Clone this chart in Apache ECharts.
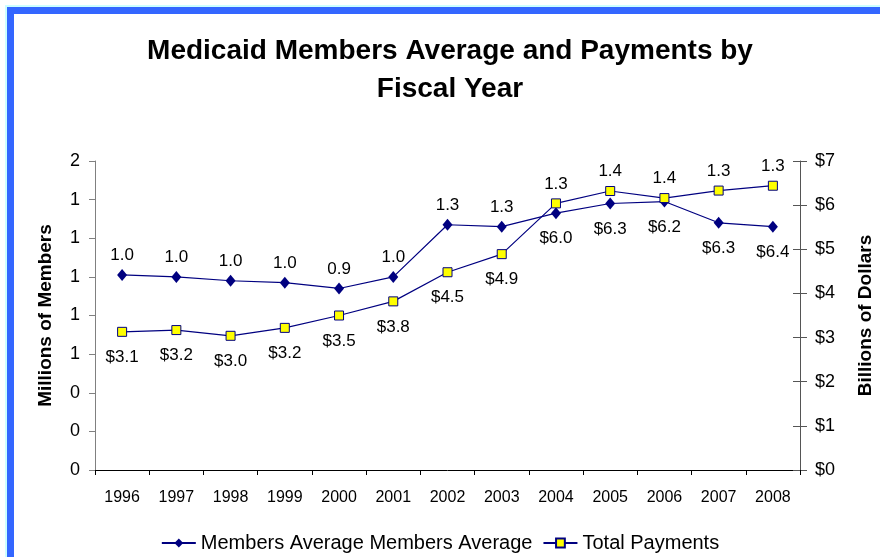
<!DOCTYPE html>
<html>
<head>
<meta charset="utf-8">
<title>Medicaid Members Average and Payments by Fiscal Year</title>
<script src="https://cdn.jsdelivr.net/npm/echarts@6/dist/echarts.min.js"></script>
<style>
  html, body { margin: 0; padding: 0; background: #ffffff; }
  #chart { width: 880px; height: 557px; }
</style>
</head>
<body>
<div id="chart"></div>
<script>
// Fiscal years on the category axis
const years = ['1996', '1997', '1998', '1999', '2000', '2001', '2002',
               '2003', '2004', '2005', '2006', '2007', '2008'];

// Average Medicaid members, millions (left axis)
const membersAvg = [1.01, 1.00, 0.98, 0.97, 0.94, 1.00, 1.27,
                    1.26, 1.33, 1.38, 1.39, 1.28, 1.26];

// Total payments, billions of dollars (right axis)
const totalPayments = [3.13, 3.17, 3.04, 3.22, 3.50, 3.82, 4.48,
                       4.89, 6.04, 6.32, 6.16, 6.33, 6.44];

// Axis scales
const membersAxis = { min: 0, max: 1.6, interval: 0.2 };
const dollarsAxis = { min: 0, max: 7, interval: 1 };

const FONT = '"Liberation Sans", Arial, Helvetica, sans-serif';
const NAVY = '#000080';

const chart = echarts.init(document.getElementById('chart'), null, { renderer: 'canvas' });

const baseOption = {
  backgroundColor: '#ffffff',
  animation: false,
  textStyle: { fontFamily: FONT, color: '#000' },
  graphic: [
    // slide frame: thin pale edge plus blue band along top and left
    { type: 'rect', shape: { x: 5, y: 5, width: 880, height: 2 }, style: { fill: '#ccffff' }, silent: true },
    { type: 'rect', shape: { x: 5, y: 5, width: 2, height: 560 }, style: { fill: '#ccffff' }, silent: true },
    { type: 'rect', shape: { x: 7, y: 7, width: 880, height: 7 }, style: { fill: '#3366ff' }, silent: true },
    { type: 'rect', shape: { x: 7, y: 7, width: 7, height: 560 }, style: { fill: '#3366ff' }, silent: true }
  ],
  title: {
    text: 'Medicaid Members Average and Payments by\nFiscal Year',
    left: 450,
    textAlign: 'center',
    top: 32,
    padding: 0,
    textStyle: {
      fontFamily: FONT,
      fontSize: 28,
      fontWeight: 'bold',
      color: '#000',
      lineHeight: 38,
      align: 'center'
    }
  },
  legend: {
    left: 'center',
    top: 528,
    itemWidth: 34,
    itemHeight: 11,
    itemGap: 10,
    textStyle: { fontFamily: FONT, fontSize: 20, color: '#000' },
    data: ['Members Average Members Average', 'Total Payments']
  },
  grid: {
    left: 95, right: 80, top: 161, bottom: 87,
    containLabel: false,
    outerBoundsMode: 'none'
  },
  xAxis: {
    type: 'category',
    data: years,
    boundaryGap: true,
    axisLine: { lineStyle: { color: '#000', width: 1 } },
    axisTick: { show: true, alignWithLabel: false, length: 5, lineStyle: { color: '#000' } },
    axisLabel: { fontFamily: FONT, fontSize: 16, color: '#000', margin: 20, interval: 0 },
    splitLine: { show: false }
  },
  yAxis: [
    {
      type: 'value',
      position: 'left',
      min: membersAxis.min, max: membersAxis.max, interval: membersAxis.interval,
      name: 'Millions of Members',
      nameLocation: 'middle',
      nameRotate: 90,
      nameGap: 40,
      nameTextStyle: { fontFamily: FONT, fontSize: 19, fontWeight: 'bold', color: '#000' },
      axisLine: { show: true, lineStyle: { color: '#808080', width: 1 } },
      axisTick: { show: true, inside: false, length: 6, lineStyle: { color: '#808080' } },
      axisLabel: {
        fontFamily: FONT, fontSize: 18, color: '#000', margin: 15,
        formatter: v => String(Math.round(v))
      },
      splitLine: { show: false }
    },
    {
      type: 'value',
      position: 'right',
      min: dollarsAxis.min, max: dollarsAxis.max, interval: dollarsAxis.interval,
      name: 'Billions of Dollars',
      nameLocation: 'middle',
      nameRotate: 90,
      nameGap: 56,
      nameTextStyle: { fontFamily: FONT, fontSize: 19, fontWeight: 'bold', color: '#000' },
      axisLine: { show: true, lineStyle: { color: '#555', width: 1 } },
      axisTick: { show: true, inside: false, length: 7, lineStyle: { color: '#555' } },
      axisLabel: {
        fontFamily: FONT, fontSize: 18, color: '#000', margin: 15,
        formatter: v => '$' + Math.round(v)
      },
      splitLine: { show: false }
    },
    {
      // inner half of the crossing ticks on the dollar axis
      type: 'value',
      position: 'right',
      min: dollarsAxis.min, max: dollarsAxis.max, interval: dollarsAxis.interval,
      axisLine: { show: false },
      axisTick: { show: true, inside: true, length: 7, lineStyle: { color: '#555' } },
      axisLabel: { show: false },
      splitLine: { show: false }
    }
  ],
  series: [
    {
      name: 'Members Average Members Average',
      type: 'line',
      yAxisIndex: 0,
      data: membersAvg,
      symbol: 'diamond',
      symbolSize: [10, 12],
      lineStyle: { color: NAVY, width: 1.2 },
      itemStyle: { color: NAVY, borderColor: NAVY, borderWidth: 0 },
      label: {
        show: true,
        position: 'top',
        distance: 5,
        fontFamily: FONT,
        fontSize: 17,
        color: '#000',
        formatter: p => Number(p.value).toFixed(1)
      },
      z: 3
    },
    {
      name: 'Total Payments',
      type: 'line',
      yAxisIndex: 1,
      data: totalPayments,
      symbol: 'rect',
      symbolSize: 9,
      lineStyle: { color: NAVY, width: 1.2 },
      itemStyle: { color: '#ffff00', borderColor: NAVY, borderWidth: 1 },
      label: {
        show: true,
        position: 'bottom',
        distance: 12,
        fontFamily: FONT,
        fontSize: 17,
        color: '#000',
        formatter: p => '$' + Number(p.value).toFixed(1)
      },
      z: 4
    }
  ]
};

chart.setOption(baseOption);

// Where the two lines cross, keep each series' label clear of the other line:
// member labels sit above the higher marker, payment labels below the lower one.
const memberItems = membersAvg.map((m, i) => {
  const yM = chart.convertToPixel({ xAxisIndex: 0, yAxisIndex: 0 }, [i, m])[1];
  const yP = chart.convertToPixel({ xAxisIndex: 0, yAxisIndex: 1 }, [i, totalPayments[i]])[1];
  const shift = yP < yM ? yP - yM : 0;
  return { value: m, label: { offset: [0, shift] } };
});
const paymentItems = totalPayments.map((p, i) => {
  const yM = chart.convertToPixel({ xAxisIndex: 0, yAxisIndex: 0 }, [i, membersAvg[i]])[1];
  const yP = chart.convertToPixel({ xAxisIndex: 0, yAxisIndex: 1 }, [i, p])[1];
  const shift = yM > yP ? yM - yP : 0;
  return { value: p, label: { offset: [0, shift] } };
});

chart.setOption({
  series: [
    { name: 'Members Average Members Average', data: memberItems },
    { name: 'Total Payments', data: paymentItems }
  ]
});
</script>
</body>
</html>
